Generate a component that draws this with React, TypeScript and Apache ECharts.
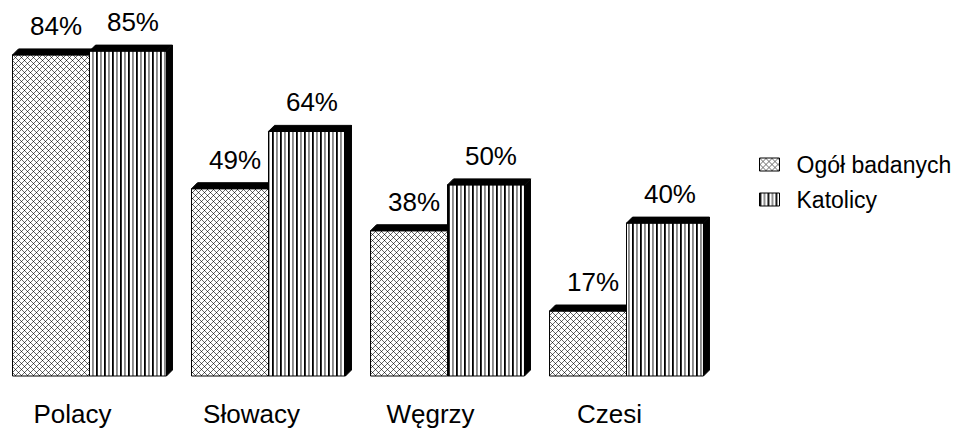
import React, { useEffect, useRef } from "react";
import * as echarts from "echarts";

const categories = ["Polacy", "Słowacy", "Węgrzy", "Czesi"];
const seriesNames = ["Ogół badanych", "Katolicy"];
const ogolValues = [84, 49, 38, 17];
const katolicyValues = [85, 64, 50, 40];
const valueLabels = ["%"];

function makeCrossPattern(): string {
  const c = document.createElement("canvas");
  c.width = 6;
  c.height = 6;
  const ctx = c.getContext("2d")!;
  ctx.fillStyle = "#fff";
  ctx.fillRect(0, 0, 6, 6);
  for (let x = 0; x < 6; x++) {
    for (let y = 0; y < 6; y++) {
      const a = (x + y) % 6 === 0;
      const b = (x - y + 6) % 6 === 0;
      if (a && b) ctx.fillStyle = "#222";
      else if (a || b) ctx.fillStyle = "#6a6a6a";
      else continue;
      ctx.fillRect(x, y, 1, 1);
    }
  }
  return c.toDataURL();
}

function makeStripePattern(): string {
  const cols = ["#000", "#333", "#fff", "#fff", "#888", "#999", "#fff", "#fff"];
  const c = document.createElement("canvas");
  c.width = cols.length;
  c.height = 4;
  const ctx = c.getContext("2d")!;
  cols.forEach((col, i) => {
    ctx.fillStyle = col;
    ctx.fillRect(i, 0, 1, 4);
  });
  return c.toDataURL();
}

export default function App() {
  const ref = useRef<HTMLDivElement>(null);
  useEffect(() => {
    if (!ref.current) return;
    const chart = echarts.init(ref.current, null, { renderer: "svg" });
    const crossPat: any = { image: makeCrossPattern(), repeat: "repeat", imageWidth: 6, imageHeight: 6 };
    const stripePat: any = { image: makeStripePattern(), repeat: "repeat", imageWidth: 8, imageHeight: 4 };
    const patterns = [crossPat, stripePat];
    const depth = 6;

    const makeRender = (side: number) => (params: any, api: any) => {
      const catIdx = api.value(0);
      const val = api.value(1);
      const base = api.coord([catIdx, 0]);
      const top = api.coord([catIdx, val]);
      const band = api.size([1, 0])[0];
      const w = band * 0.43;
      const left = side === 0 ? base[0] - w : base[0];
      const yT = top[1];
      const yB = base[1];
      const d = depth;
      return {
        type: "group",
        children: [
          {
            type: "rect",
            shape: { x: left, y: yT, width: w, height: yB - yT },
            style: { fill: patterns[side], stroke: "#000", lineWidth: 1 },
          },
          {
            type: "polygon",
            shape: {
              points: [
                [left, yT],
                [left + w, yT],
                [left + w + d, yT - d],
                [left + d, yT - d],
              ],
            },
            style: { fill: "#000", stroke: "#000", lineWidth: 1 },
          },
          {
            type: "polygon",
            shape: {
              points: [
                [left + w, yT],
                [left + w + d, yT - d],
                [left + w + d, yB - d],
                [left + w, yB],
              ],
            },
            style: { fill: "#000", stroke: "#000", lineWidth: 1 },
          },
          {
            type: "text",
            style: {
              text: val + valueLabels[0],
              x: left + w / 2 + d / 2 + 2,
              y: yT - 16,
              align: "center",
              verticalAlign: "bottom",
              fontSize: 26,
              fontFamily: "Liberation Sans",
              fill: "#000",
            },
          },
        ],
      };
    };

    chart.setOption({
      animation: false,
      backgroundColor: "#fff",
      grid: { left: 0, right: 240, top: 32, bottom: 55 },
      xAxis: {
        type: "category",
        data: categories,
        axisLine: { show: false },
        axisTick: { show: false },
        splitLine: { show: false },
        axisLabel: {
          fontSize: 26,
          fontFamily: "Liberation Sans",
          color: "#000",
          margin: 25,
          padding: [0, 34, 0, 0],
        },
      },
      yAxis: { type: "value", min: 0, max: 90, show: false },
      legend: {
        orient: "vertical",
        left: 754,
        top: 148,
        itemWidth: 20,
        itemHeight: 13,
        itemGap: 12,
        textStyle: { fontSize: 23, fontFamily: "Liberation Sans", color: "#000", padding: [0, 0, 0, 12] },
        data: [
          { name: seriesNames[0], icon: "rect", itemStyle: { color: crossPat, borderColor: "#000", borderWidth: 1 } },
          { name: seriesNames[1], icon: "rect", itemStyle: { color: stripePat, borderColor: "#000", borderWidth: 1 } },
        ],
      },
      series: [
        {
          type: "custom",
          name: seriesNames[0],
          encode: { x: 0, y: 1 },
          itemStyle: { color: crossPat },
          data: categories.map((c, i) => [c, ogolValues[i]]),
          renderItem: makeRender(0),
        },
        {
          type: "custom",
          name: seriesNames[1],
          encode: { x: 0, y: 1 },
          itemStyle: { color: stripePat },
          data: categories.map((c, i) => [c, katolicyValues[i]]),
          renderItem: makeRender(1),
        },
      ],
    });
    return () => chart.dispose();
  }, []);
  return <div ref={ref} style={{ position: "absolute", left: 0, top: 0, width: 956, height: 431 }} />;
}
